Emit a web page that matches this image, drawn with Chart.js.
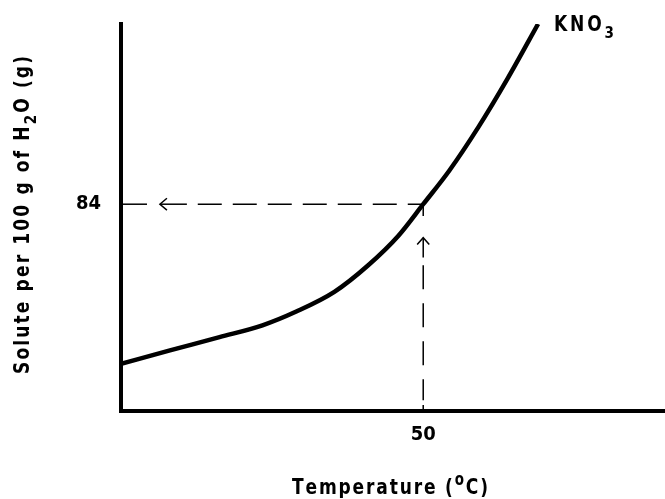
<!DOCTYPE html>
<html>
<head>
<meta charset="utf-8">
<script src="https://cdn.jsdelivr.net/npm/chart.js@4.4.0/dist/chart.umd.min.js"></script>
<style>
  body { margin: 0; background: #fff; }
  canvas { display: block; }
</style>
</head>
<body>
<canvas id="solChart" width="665" height="499"></canvas>
<script>
// KNO3 solubility curve
const temps = [0, 8.1, 16.3, 23.4, 29, 35.3, 40.9, 45.9, 50, 54.3, 59.1, 64, 69];
const solute = [19.2, 24.6, 30, 34.8, 40.4, 48.4, 59.2, 71.2, 84, 97.6, 115.2, 135.2, 157.2];

// the one labelled tick on each axis
const xTicks = [50];
const yTicks = [84];

// read-off guide: 50 C -> 84 g
const readT = 50;
const readS = 84;
const hGuideStub = [0, 4.3];      // x values of the short piece at the axis
const hGuideDash = [12.7, 50];    // x values of the dashed piece
const hArrow = [[7.6, 86.4], [6.44, 84], [7.6, 81.6]];
const hShaft = [6.44, 10.9];
const vGuideStub = [84, 79.2];    // y values of the short piece under the curve
const vGuideDash = [59.2, 4.4];
const vGuideTail = [2.4, 0];
const vArrow = [[49.0, 67.6], [50, 70.4], [51.0, 67.6]];
const vShaft = [70.4, 62.4];

const FONT = "'DejaVu Sans Condensed', 'DejaVu Sans', sans-serif";

function richText(ctx, parts, cx, cy, size, target, rotate, stretch) {
  // parts: [text, kind] where kind is '', 'sup' or 'sub'
  const fontFor = k => "bold " + (k ? Math.round(size * 0.8) : size) + "px " + FONT;
  let natural = 0, count = 0;
  parts.forEach(([t, k]) => {
    ctx.font = fontFor(k);
    for (const ch of t) { natural += ctx.measureText(ch).width; count++; }
  });
  const spacing = target ? (target - natural) / (count - 1) : 0;
  const total = natural + spacing * (count - 1);
  ctx.save();
  ctx.translate(cx, cy);
  if (rotate) ctx.rotate(-Math.PI / 2);
  ctx.scale(1, stretch || 1);
  ctx.fillStyle = "#000";
  ctx.textBaseline = "alphabetic";
  let x = -total / 2;
  parts.forEach(([t, k]) => {
    ctx.font = fontFor(k);
    const dy = k === "sup" ? -size * 0.4 : k === "sub" ? size * 0.32 : 0;
    for (const ch of t) {
      ctx.fillText(ch, x, dy);
      x += ctx.measureText(ch).width + spacing;
    }
  });
  ctx.restore();
}

const labelPlugin = {
  id: "labels",
  afterDraw(chart) {
    const ctx = chart.ctx;
    richText(ctx, [["Temperature (", ""], ["o", "sup"], ["C)", ""]], 390, 494, 19, 196, false, 1.15);
    richText(ctx, [["Solute per 100 g of H", ""], ["2", "sub"], ["O (g)", ""]], 29, 215, 19, 318, true, 1.1);
    richText(ctx, [["KNO", ""], ["3", "sub"]], 584, 31, 19, 60, false, 1.1);
  }
};

const pts = (xs, ys) => xs.map((x, i) => ({ x: x, y: ys[i] }));
const guide = { borderColor: "#000", borderWidth: 1.5, pointRadius: 0, showLine: true, fill: false, tension: 0 };

new Chart(document.getElementById("solChart"), {
  type: "scatter",
  data: {
    datasets: [
      {
        label: "KNO3",
        data: pts(temps, solute),
        showLine: true,
        borderColor: "#000",
        borderWidth: 4.5,
        pointRadius: 0,
        cubicInterpolationMode: "monotone"
      },
      Object.assign({ data: pts(hGuideStub, [readS, readS]) }, guide),
      Object.assign({ data: pts(hGuideDash, [readS, readS]), borderDash: [24, 11] }, guide),
      Object.assign({ data: hArrow.map(p => ({ x: p[0], y: p[1] })) }, guide),
      Object.assign({ data: pts(hShaft, [readS, readS]) }, guide),
      Object.assign({ data: pts([readT, readT], vGuideStub) }, guide),
      Object.assign({ data: pts([readT, readT], vGuideDash), borderDash: [24, 14] }, guide),
      Object.assign({ data: pts([readT, readT], vGuideTail) }, guide),
      Object.assign({ data: vArrow.map(p => ({ x: p[0], y: p[1] })) }, guide),
      Object.assign({ data: pts([readT, readT], vShaft) }, guide)
    ]
  },
  options: {
    responsive: false,
    animation: false,
    layout: { padding: { top: 18, right: 0, left: 0, bottom: 0 } },
    scales: {
      x: {
        type: "linear",
        min: 0,
        max: 90,
        grid: { display: false },
        border: { display: true, color: "#000", width: 4 },
        afterBuildTicks: axis => { axis.ticks = xTicks.map(v => ({ value: v })); },
        afterFit: axis => { axis.height = 88; },
        ticks: { color: "#000", padding: 4, font: { family: FONT, size: 20, weight: "bold" } }
      },
      y: {
        type: "linear",
        min: 0,
        max: 157.2,
        grid: { display: false },
        border: { display: true, color: "#000", width: 4 },
        afterBuildTicks: axis => { axis.ticks = yTicks.map(v => ({ value: v })); },
        afterFit: axis => { axis.width = 121; },
        ticks: { color: "#000", padding: 12, font: { family: FONT, size: 20, weight: "bold" } }
      }
    },
    plugins: {
      legend: { display: false },
      tooltip: { enabled: false }
    }
  },
  plugins: [labelPlugin]
});
</script>
</body>
</html>
